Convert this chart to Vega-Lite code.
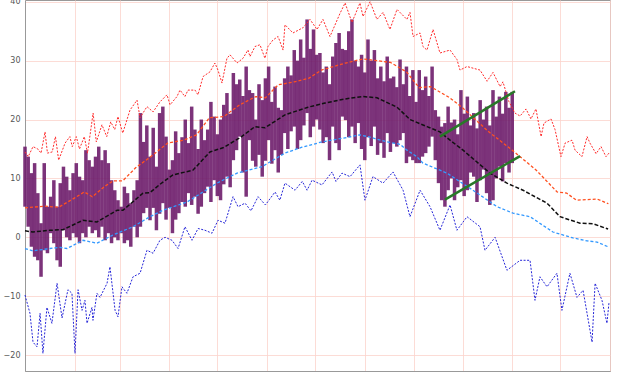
{
  "$schema": "https://vega.github.io/schema/vega-lite/v6.json",
  "width": 585,
  "height": 371,
  "autosize": {"type": "none"},
  "padding": {"left": 25, "top": 0, "right": 17, "bottom": 5},
  "background": "white",
  "config": {
    "view": {"stroke": "#999999", "strokeWidth": 1},
    "axis": {"title": null}
  },
  "datasets": {
    "act": [
      {"d":0,"lo":5.2,"hi":15.4},{"d":2,"lo":1.8,"hi":13.7},{"d":4,"lo":-1.6,"hi":10.9},{"d":6,"lo":-3.3,"hi":12.6},{"d":8,"lo":-3.9,"hi":7.5},{"d":10,"lo":-6.7,"hi":2.4},{"d":12,"lo":-2.2,"hi":12.6},{"d":14,"lo":-2.7,"hi":5.2},{"d":16,"lo":0.7,"hi":6.9},{"d":18,"lo":-1.0,"hi":9.7},{"d":20,"lo":-3.9,"hi":5.2},{"d":22,"lo":-5.0,"hi":9.2},{"d":24,"lo":1.2,"hi":12.0},{"d":26,"lo":0.0,"hi":10.3},{"d":28,"lo":-0.5,"hi":8.0},{"d":30,"lo":0.7,"hi":10.9},{"d":32,"lo":0.0,"hi":12.6},{"d":34,"lo":-1.0,"hi":10.3},{"d":36,"lo":0.7,"hi":9.7},{"d":38,"lo":0.0,"hi":14.8},{"d":40,"lo":1.8,"hi":13.1},{"d":42,"lo":0.7,"hi":12.0},{"d":44,"lo":1.2,"hi":13.7},{"d":46,"lo":0.0,"hi":15.4},{"d":48,"lo":1.8,"hi":13.1},{"d":50,"lo":-0.5,"hi":14.8},{"d":52,"lo":0.7,"hi":12.6},{"d":54,"lo":-1.0,"hi":9.7},{"d":56,"lo":0.0,"hi":8.0},{"d":58,"lo":-0.5,"hi":6.3},{"d":60,"lo":0.7,"hi":5.2},{"d":62,"lo":-1.0,"hi":8.6},{"d":64,"lo":-0.5,"hi":7.5},{"d":66,"lo":-1.6,"hi":5.8},{"d":68,"lo":1.8,"hi":8.0},{"d":70,"lo":0.0,"hi":9.7},
      {"d":72,"lo":1.8,"hi":21.1},{"d":74,"lo":4.1,"hi":16.2},{"d":76,"lo":5.0,"hi":19.0},{"d":78,"lo":2.9,"hi":13.7},{"d":80,"lo":5.0,"hi":18.6},{"d":82,"lo":1.2,"hi":12.0},{"d":84,"lo":4.0,"hi":21.1},{"d":86,"lo":5.8,"hi":22.2},{"d":88,"lo":3.0,"hi":17.1},{"d":90,"lo":5.0,"hi":11.5},{"d":92,"lo":0.7,"hi":13.1},{"d":94,"lo":3.0,"hi":18.0},{"d":96,"lo":4.1,"hi":14.3},{"d":98,"lo":6.0,"hi":17.0},{"d":100,"lo":5.2,"hi":20.0},{"d":102,"lo":7.5,"hi":16.0},{"d":104,"lo":5.5,"hi":22.2},{"d":106,"lo":6.9,"hi":18.3},{"d":108,"lo":4.0,"hi":15.0},{"d":110,"lo":5.2,"hi":20.0},{"d":112,"lo":7.5,"hi":16.5},{"d":114,"lo":8.6,"hi":18.3},{"d":116,"lo":6.0,"hi":23.0},{"d":118,"lo":9.7,"hi":20.5},{"d":120,"lo":7.0,"hi":17.5},{"d":122,"lo":6.3,"hi":20.0},{"d":124,"lo":9.0,"hi":22.5},{"d":126,"lo":10.3,"hi":24.5},{"d":128,"lo":8.5,"hi":21.0},{"d":130,"lo":13.1,"hi":27.9},{"d":132,"lo":14.8,"hi":26.0},{"d":134,"lo":17.1,"hi":26.8},{"d":136,"lo":11.0,"hi":24.0},{"d":138,"lo":6.9,"hi":29.0},{"d":140,"lo":16.5,"hi":25.0},{"d":142,"lo":13.0,"hi":24.5},{"d":144,"lo":12.0,"hi":20.0},{"d":146,"lo":14.0,"hi":26.0},{"d":148,"lo":10.3,"hi":23.3},{"d":150,"lo":13.0,"hi":27.0},{"d":152,"lo":16.5,"hi":29.0},{"d":154,"lo":12.5,"hi":23.0},{"d":156,"lo":14.8,"hi":25.6},{"d":158,"lo":11.0,"hi":22.0},{"d":160,"lo":14.0,"hi":21.6},{"d":162,"lo":17.7,"hi":27.0},{"d":164,"lo":15.0,"hi":29.0},{"d":166,"lo":18.0,"hi":27.5},{"d":168,"lo":18.8,"hi":31.8},{"d":170,"lo":15.0,"hi":30.0},{"d":172,"lo":16.5,"hi":33.6},{"d":174,"lo":19.0,"hi":30.5},{"d":176,"lo":21.1,"hi":37.0},{"d":178,"lo":17.0,"hi":32.0},{"d":180,"lo":18.8,"hi":35.3},{"d":182,"lo":20.0,"hi":31.0},{"d":184,"lo":18.3,"hi":31.3},{"d":186,"lo":16.0,"hi":28.0},{"d":188,"lo":17.0,"hi":29.0},{"d":190,"lo":13.1,"hi":26.0},{"d":192,"lo":18.8,"hi":30.7},{"d":194,"lo":16.0,"hi":33.0},{"d":196,"lo":14.8,"hi":34.7},{"d":198,"lo":20.5,"hi":32.0},{"d":200,"lo":19.9,"hi":31.8},{"d":202,"lo":17.0,"hi":35.0},{"d":204,"lo":18.8,"hi":37.0},{"d":206,"lo":16.0,"hi":30.0},{"d":208,"lo":19.4,"hi":29.0},{"d":210,"lo":15.0,"hi":31.0},{"d":212,"lo":13.1,"hi":28.0},{"d":214,"lo":17.0,"hi":33.6},{"d":216,"lo":15.5,"hi":30.0},{"d":218,"lo":18.8,"hi":31.8},{"d":220,"lo":14.0,"hi":27.0},{"d":222,"lo":16.0,"hi":29.0},{"d":224,"lo":13.5,"hi":26.5},{"d":226,"lo":17.7,"hi":30.7},{"d":228,"lo":14.5,"hi":27.0},{"d":230,"lo":16.0,"hi":27.3},{"d":232,"lo":15.4,"hi":25.5},{"d":234,"lo":16.5,"hi":30.2},{"d":236,"lo":17.7,"hi":26.0},{"d":238,"lo":12.6,"hi":29.0},{"d":240,"lo":13.7,"hi":24.0},{"d":242,"lo":13.1,"hi":28.4},{"d":244,"lo":12.6,"hi":23.0},{"d":246,"lo":12.6,"hi":28.4},{"d":248,"lo":13.7,"hi":25.0},{"d":250,"lo":14.3,"hi":27.3},{"d":252,"lo":15.4,"hi":24.0},{"d":254,"lo":17.1,"hi":29.0},{"d":256,"lo":13.1,"hi":21.6},{"d":258,"lo":9.2,"hi":20.5},{"d":260,"lo":6.3,"hi":18.8},{"d":262,"lo":5.2,"hi":19.4},{"d":264,"lo":8.0,"hi":22.2},{"d":266,"lo":10.0,"hi":19.5},{"d":268,"lo":6.3,"hi":20.0},{"d":270,"lo":8.5,"hi":17.5},{"d":272,"lo":9.7,"hi":25.0},{"d":274,"lo":7.0,"hi":21.0},{"d":276,"lo":8.0,"hi":23.9},{"d":278,"lo":11.0,"hi":19.0},{"d":280,"lo":10.3,"hi":21.1},{"d":282,"lo":6.0,"hi":18.5},{"d":284,"lo":9.7,"hi":23.3},{"d":286,"lo":11.5,"hi":20.0},{"d":288,"lo":7.5,"hi":22.2},{"d":290,"lo":5.5,"hi":19.0},{"d":292,"lo":6.3,"hi":25.0},{"d":294,"lo":10.0,"hi":20.5},{"d":296,"lo":12.0,"hi":23.9},{"d":298,"lo":9.5,"hi":21.0},{"d":300,"lo":12.6,"hi":24.7},{"d":302,"lo":11.0,"hi":22.0},{"d":304,"lo":12.6,"hi":24.7}
    ],
    "rh": [
      {"d":0,"v":14.5},{"d":2,"v":13.7},{"d":5,"v":15.4},{"d":8,"v":15.0},{"d":10,"v":14.3},{"d":12.5,"v":17.9},{"d":14,"v":14.3},{"d":17,"v":14.5},{"d":19,"v":17.1},{"d":21,"v":13.1},{"d":25,"v":16.0},{"d":28,"v":17.1},{"d":29.5,"v":15.4},{"d":32,"v":17.1},{"d":34,"v":15.0},{"d":37,"v":17.1},{"d":39,"v":14.3},{"d":42.5,"v":21.1},{"d":44.5,"v":16.2},{"d":48,"v":19.1},{"d":51,"v":17.1},{"d":53.5,"v":19.6},{"d":56,"v":18.3},{"d":58,"v":20.5},{"d":61,"v":17.7},{"d":65.5,"v":21.6},{"d":69.9,"v":23.3},{"d":71.8,"v":20.3},{"d":76.1,"v":22.2},{"d":79.9,"v":21.3},{"d":84.2,"v":23.0},{"d":88.6,"v":24.2},{"d":90.5,"v":22.5},{"d":94.8,"v":23.9},{"d":96.7,"v":25.0},{"d":99.8,"v":23.9},{"d":101.7,"v":25.0},{"d":106.1,"v":25.0},{"d":107.9,"v":24.2},{"d":111.1,"v":27.3},{"d":115.4,"v":28.1},{"d":118.5,"v":29.6},{"d":120.4,"v":28.4},{"d":122.9,"v":26.2},{"d":126,"v":30.4},{"d":127.9,"v":31.0},{"d":132.3,"v":29.6},{"d":136,"v":30.4},{"d":139.1,"v":31.8},{"d":140.4,"v":30.7},{"d":143.5,"v":32.4},{"d":146.6,"v":32.7},{"d":149.7,"v":30.4},{"d":151.6,"v":32.4},{"d":154.7,"v":33.5},{"d":157.9,"v":34.1},{"d":161,"v":31.8},{"d":162.2,"v":36.1},{"d":167.2,"v":34.7},{"d":173.5,"v":35.6},{"d":177.8,"v":37.0},{"d":182.2,"v":35.3},{"d":185.9,"v":37.0},{"d":190.3,"v":34.1},{"d":196.5,"v":38.0},{"d":199.7,"v":39.8},{"d":204,"v":36.5},{"d":209,"v":39.8},{"d":210.9,"v":37.5},{"d":215.3,"v":40.0},{"d":219.6,"v":37.0},{"d":223.4,"v":38.2},{"d":227.7,"v":35.3},{"d":232.1,"v":38.7},{"d":238.3,"v":37.0},{"d":240.2,"v":38.2},{"d":242.1,"v":34.1},{"d":246.5,"v":34.7},{"d":248.3,"v":32.4},{"d":250.8,"v":31.8},{"d":254.6,"v":35.3},{"d":258.9,"v":31.3},{"d":265.2,"v":31.8},{"d":269.5,"v":30.2},{"d":271.4,"v":28.4},{"d":275.8,"v":29.0},{"d":283.9,"v":28.4},{"d":288.3,"v":26.5},{"d":292,"v":28.0},{"d":296.4,"v":25.6},{"d":298.2,"v":26.4},{"d":302,"v":23.0},{"d":305.7,"v":21.1},{"d":308.9,"v":20.6},{"d":312.6,"v":21.8},{"d":315.7,"v":20.1},{"d":318.8,"v":21.8},{"d":322,"v":17.1},{"d":323.8,"v":19.4},{"d":328.2,"v":20.1},{"d":330.7,"v":18.3},{"d":334.4,"v":13.7},{"d":337,"v":16.0},{"d":341.3,"v":16.5},{"d":343.2,"v":14.8},{"d":347.5,"v":13.7},{"d":350.7,"v":17.1},{"d":352.5,"v":16.0},{"d":356.3,"v":14.2},{"d":359.4,"v":15.4},{"d":362.5,"v":13.7},{"d":365,"v":14.5}
    ],
    "rl": [
      {"d":0,"v":-9.8},{"d":3.1,"v":-12.9},{"d":5,"v":-17.8},{"d":7.5,"v":-18.6},{"d":9.4,"v":-12.9},{"d":11.2,"v":-19.7},{"d":13.7,"v":-11.9},{"d":16.8,"v":-14.6},{"d":20,"v":-7.8},{"d":23.1,"v":-13.7},{"d":26.8,"v":-8.9},{"d":29.3,"v":-9.5},{"d":31.2,"v":-19.7},{"d":33.1,"v":-8.9},{"d":35.6,"v":-12.4},{"d":37.4,"v":-10.7},{"d":38.7,"v":-14.6},{"d":41.8,"v":-11.9},{"d":42.4,"v":-14.1},{"d":44.9,"v":-9.5},{"d":46.8,"v":-10.2},{"d":51.2,"v":-7.8},{"d":53,"v":-5.0},{"d":56.2,"v":-12.4},{"d":58,"v":-13.5},{"d":60.5,"v":-8.4},{"d":63.6,"v":-9.5},{"d":67.4,"v":-6.7},{"d":71.8,"v":-6.1},{"d":76.1,"v":-2.2},{"d":79.9,"v":-2.7},{"d":84.2,"v":-0.5},{"d":87.4,"v":0.0},{"d":91.7,"v":-0.5},{"d":95.5,"v":-1.9},{"d":99.8,"v":1.8},{"d":104.2,"v":-0.5},{"d":108,"v":1.5},{"d":112.3,"v":1.2},{"d":116.7,"v":0.7},{"d":120.4,"v":2.9},{"d":124.8,"v":2.4},{"d":129.8,"v":6.9},{"d":132.9,"v":5.2},{"d":137.3,"v":5.8},{"d":141,"v":4.5},{"d":145.4,"v":6.9},{"d":150,"v":5.5},{"d":156,"v":7.7},{"d":159,"v":6.3},{"d":162.2,"v":9.2},{"d":168.5,"v":8.0},{"d":173,"v":9.5},{"d":176,"v":8.0},{"d":179.1,"v":9.7},{"d":185.3,"v":8.9},{"d":191.6,"v":11.1},{"d":194,"v":9.5},{"d":197.8,"v":10.9},{"d":202.8,"v":10.3},{"d":209,"v":12.3},{"d":212.1,"v":6.3},{"d":217.1,"v":10.3},{"d":223.4,"v":9.2},{"d":229.6,"v":11.1},{"d":235.9,"v":8.0},{"d":240.2,"v":3.5},{"d":246.5,"v":8.0},{"d":252.7,"v":5.2},{"d":258.9,"v":1.2},{"d":265.2,"v":5.5},{"d":269.5,"v":1.2},{"d":275.8,"v":3.5},{"d":283.9,"v":1.8},{"d":287,"v":-2.2},{"d":293.3,"v":0.0},{"d":300.7,"v":-5.6},{"d":308.9,"v":-3.9},{"d":315.1,"v":-3.9},{"d":318.2,"v":-10.7},{"d":321.3,"v":-6.7},{"d":325.7,"v":-8.4},{"d":331.9,"v":-6.1},{"d":335,"v":-12.4},{"d":340,"v":-6.1},{"d":344.4,"v":-10.2},{"d":348.2,"v":-9.0},{"d":353.8,"v":-17.8},{"d":355.7,"v":-7.8},{"d":360,"v":-10.7},{"d":363.1,"v":-14.6},{"d":364.4,"v":-11.0}
    ],
    "ah": [
      {"d":0,"v":5.0},{"d":12.5,"v":5.3},{"d":21,"v":5.1},{"d":31,"v":6.7},{"d":37,"v":7.7},{"d":42,"v":6.9},{"d":50,"v":8.7},{"d":55,"v":9.6},{"d":61,"v":9.6},{"d":69,"v":11.8},{"d":78,"v":13.6},{"d":89,"v":16.0},{"d":99,"v":16.5},{"d":107,"v":17.4},{"d":115,"v":20.3},{"d":124,"v":20.5},{"d":134,"v":22.5},{"d":144,"v":23.9},{"d":150,"v":23.7},{"d":158,"v":25.9},{"d":168,"v":26.4},{"d":177,"v":27.0},{"d":185,"v":28.4},{"d":200,"v":29.6},{"d":211,"v":30.3},{"d":228,"v":29.7},{"d":238,"v":28.1},{"d":246,"v":25.4},{"d":253,"v":25.6},{"d":265,"v":23.7},{"d":273,"v":22.0},{"d":289,"v":18.0},{"d":304,"v":14.8},{"d":319,"v":11.4},{"d":332,"v":7.7},{"d":338,"v":7.5},{"d":344,"v":6.3},{"d":357,"v":6.5},{"d":364,"v":5.7}
    ],
    "av": [
      {"d":0,"v":1.1},{"d":5,"v":0.9},{"d":15.6,"v":1.2},{"d":23.7,"v":1.3},{"d":36.2,"v":2.9},{"d":44.9,"v":2.6},{"d":57.4,"v":4.6},{"d":61.1,"v":4.6},{"d":73.6,"v":7.5},{"d":78,"v":7.6},{"d":84.2,"v":9.0},{"d":92.3,"v":10.6},{"d":104.8,"v":11.4},{"d":115.4,"v":14.5},{"d":123.5,"v":15.2},{"d":134.1,"v":16.9},{"d":143.5,"v":18.8},{"d":149.7,"v":18.6},{"d":162.2,"v":20.8},{"d":176.6,"v":22.1},{"d":187.2,"v":22.8},{"d":199.7,"v":23.5},{"d":210.9,"v":23.9},{"d":219.6,"v":23.7},{"d":232.1,"v":22.1},{"d":240.2,"v":20.0},{"d":250.8,"v":18.8},{"d":258.9,"v":17.9},{"d":265.2,"v":16.5},{"d":273.3,"v":14.8},{"d":290.1,"v":10.9},{"d":300.7,"v":9.2},{"d":310.7,"v":8.0},{"d":325.7,"v":5.8},{"d":333.8,"v":3.5},{"d":346.3,"v":2.4},{"d":354.4,"v":2.3},{"d":363.8,"v":1.4}
    ],
    "al": [
      {"d":0,"v":-1.9},{"d":5,"v":-2.3},{"d":15.6,"v":-1.9},{"d":21.8,"v":-1.7},{"d":26.2,"v":-1.9},{"d":36.2,"v":-0.5},{"d":44.9,"v":-1.0},{"d":54.9,"v":0.4},{"d":67.4,"v":1.8},{"d":78,"v":3.5},{"d":86.1,"v":4.6},{"d":101.1,"v":6.0},{"d":111.1,"v":7.7},{"d":119.8,"v":9.2},{"d":132.3,"v":10.9},{"d":147.9,"v":12.0},{"d":162.2,"v":14.3},{"d":172.8,"v":15.3},{"d":185.3,"v":16.2},{"d":199.7,"v":16.9},{"d":209,"v":17.4},{"d":215.3,"v":17.0},{"d":225.9,"v":16.2},{"d":234,"v":15.8},{"d":238.3,"v":14.8},{"d":244.5,"v":13.7},{"d":248.3,"v":12.6},{"d":263.3,"v":10.9},{"d":279.5,"v":8.0},{"d":294.5,"v":5.2},{"d":304.5,"v":4.1},{"d":315.1,"v":3.5},{"d":329.4,"v":0.9},{"d":341.9,"v":-0.1},{"d":350.7,"v":-0.6},{"d":356.9,"v":-0.8},{"d":363.8,"v":-1.6}
    ],
    "grn": [
      {"g":"a","d":258.9,"v":17.1},{"g":"a","d":305.7,"v":24.8},
      {"g":"b","d":262.0,"v":6.4},{"g":"b","d":308.9,"v":13.8}
    ]
  },
  "layer": [
    {
      "data": {"name": "act"},
      "mark": {"type": "rule", "color": "#6e1d6c", "strokeWidth": 3.5, "opacity": 0.9},
      "encoding": {
        "x": {"field": "d", "type": "quantitative", "scale": {"domain": [0, 365], "nice": false, "zero": false},
          "axis": {"values": [0,31,59,90,120,151,181,212,243,273,304,334,365], "labels": false, "ticks": false, "grid": true, "gridColor": "#fbd3cc", "gridWidth": 0.8, "domainColor": "#999999", "title": null}},
        "y": {"field": "lo", "type": "quantitative", "scale": {"domain": [-22.7, 40.3], "nice": false, "zero": false},
          "axis": {"values": [-20,-10,0,10,20,30,40], "ticks": false, "grid": true, "gridColor": "#fbd3cc", "gridWidth": 0.8, "domainColor": "#999999", "labelFont": "DejaVu Sans", "labelFontSize": 8, "labelColor": "#555555", "labelPadding": 5, "title": null}},
        "y2": {"field": "hi"}
      }
    },
    {
      "data": {"name": "rh"},
      "mark": {"type": "line", "color": "#ff2b2b", "strokeWidth": 1, "strokeDash": [2, 1.5]},
      "encoding": {"x": {"field": "d", "type": "quantitative"}, "y": {"field": "v", "type": "quantitative"}}
    },
    {
      "data": {"name": "rl"},
      "mark": {"type": "line", "color": "#2525d8", "strokeWidth": 1, "strokeDash": [2, 1.5]},
      "encoding": {"x": {"field": "d", "type": "quantitative"}, "y": {"field": "v", "type": "quantitative"}}
    },
    {
      "data": {"name": "ah"},
      "mark": {"type": "line", "color": "#ff5020", "strokeWidth": 1.3, "strokeDash": [3, 2]},
      "encoding": {"x": {"field": "d", "type": "quantitative"}, "y": {"field": "v", "type": "quantitative"}}
    },
    {
      "data": {"name": "al"},
      "mark": {"type": "line", "color": "#3399ff", "strokeWidth": 1.3, "strokeDash": [3, 2]},
      "encoding": {"x": {"field": "d", "type": "quantitative"}, "y": {"field": "v", "type": "quantitative"}}
    },
    {
      "data": {"name": "av"},
      "mark": {"type": "line", "color": "#111111", "strokeWidth": 1.5, "strokeDash": [4, 2]},
      "encoding": {"x": {"field": "d", "type": "quantitative"}, "y": {"field": "v", "type": "quantitative"}}
    },
    {
      "data": {"name": "grn"},
      "mark": {"type": "line", "color": "#287828", "strokeWidth": 2.5},
      "encoding": {"x": {"field": "d", "type": "quantitative"}, "y": {"field": "v", "type": "quantitative"}, "detail": {"field": "g"}}
    }
  ]
}
